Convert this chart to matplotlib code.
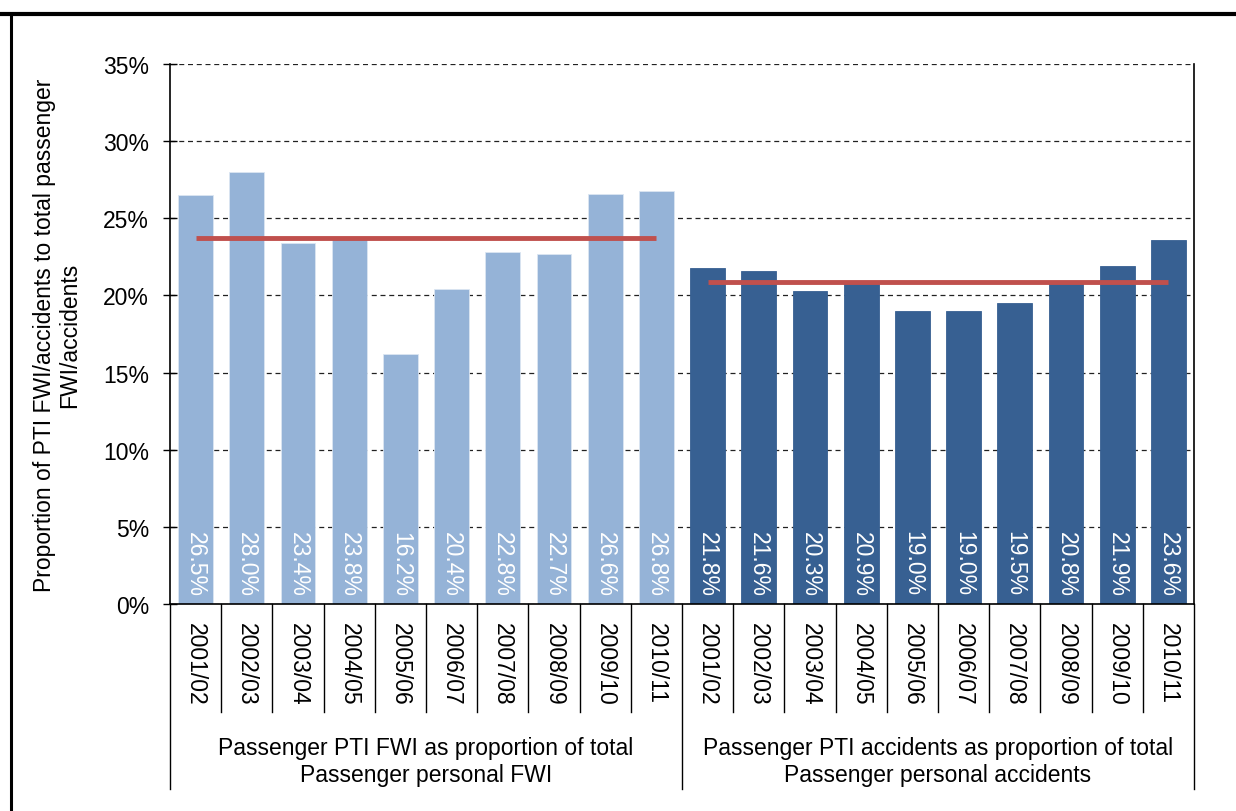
import numpy as np
import matplotlib.pyplot as plt
from matplotlib.lines import Line2D
from matplotlib.ticker import PercentFormatter

plt.rcParams['font.family'] = ['Liberation Sans', 'DejaVu Sans']

# data
years = ['2001/02', '2002/03', '2003/04', '2004/05', '2005/06',
         '2006/07', '2007/08', '2008/09', '2009/10', '2010/11']
fwi_share = [26.5, 28.0, 23.4, 23.8, 16.2, 20.4, 22.8, 22.7, 26.6, 26.8]
acc_share = [21.8, 21.6, 20.3, 20.9, 19.0, 19.0, 19.5, 20.8, 21.9, 23.6]
group_labels = ['Passenger PTI FWI as proportion of total\nPassenger personal FWI',
                'Passenger PTI accidents as proportion of total\nPassenger personal accidents']
ylabel = 'Proportion of PTI FWI/accidents to total passenger\nFWI/accidents'

light = '#95B3D7'
dark = '#376092'
red = '#C0504D'
fs = 16.5

fig = plt.figure(figsize=(12.36, 8.12), dpi=100)
ax = fig.add_axes([170/1236, 1 - 605/812, 1024/1236, 540/812])

n = len(years)
x1 = np.arange(n)
x2 = np.arange(n) + n
ax.bar(x1, fwi_share, width=0.68, color=light, edgecolor='#DCE6F2', linewidth=0.6, zorder=2)
ax.bar(x2, acc_share, width=0.68, color=dark, edgecolor=dark, linewidth=0.6, zorder=2)

# averages
ax.plot([x1[0], x1[-1]], [np.mean(fwi_share)] * 2, color=red, lw=3.5, zorder=3, solid_capstyle='butt')
ax.plot([x2[0], x2[-1]], [np.mean(acc_share)] * 2, color=red, lw=3.5, zorder=3, solid_capstyle='butt')

# value labels
for xs, vals in ((x1, fwi_share), (x2, acc_share)):
    for x, v in zip(xs, vals):
        ax.text(x, 0.55, '%.1f%%' % v, rotation=270, ha='center', va='bottom',
                color='white', fontsize=fs, zorder=4)

ax.set_xlim(-0.5, 2 * n - 0.5)
ax.set_ylim(0, 35)
ax.set_yticks(np.arange(0, 36, 5))
ax.yaxis.set_major_formatter(PercentFormatter(decimals=0))
ax.tick_params(axis='y', direction='inout', length=10, width=1, labelsize=fs, pad=10)
ax.grid(axis='y', color='#222222', linestyle=(0, (4, 3)), linewidth=0.9, zorder=1)

ax.set_xticks(np.concatenate([x1, x2]))
ax.set_xticklabels(years + years, rotation=270, fontsize=fs)
ax.tick_params(axis='x', length=0, pad=13)

ax.spines['top'].set_visible(False)
for s in ('left', 'right', 'bottom'):
    ax.spines[s].set_linewidth(1.2)

# category separators below the axis
trans = ax.get_xaxis_transform()
for b in np.arange(0, 2 * n + 1) - 0.5:
    bottom = -0.343 if b in (-0.5, n - 0.5, 2 * n - 0.5) else -0.2
    ax.add_line(Line2D([b, b], [0, bottom], transform=trans, color='black',
                       lw=1, clip_on=False))

for i, lab in enumerate(group_labels):
    ax.text(i * n + (n - 1) / 2, -0.291, lab, transform=trans, ha='center',
            va='center', fontsize=fs, linespacing=1.2)

fig.text(57/1236, 1 - 335/812, ylabel, rotation=90, ha='center', va='center',
         fontsize=fs, multialignment='center', linespacing=1.15)

# frame around the figure
fig.add_artist(Line2D([0, 1], [1 - 15/812] * 2, transform=fig.transFigure, color='black', lw=3))
fig.add_artist(Line2D([11/1236] * 2, [0, 1 - 15/812], transform=fig.transFigure, color='black', lw=2.2))

fig.savefig('out.png', dpi=100)
